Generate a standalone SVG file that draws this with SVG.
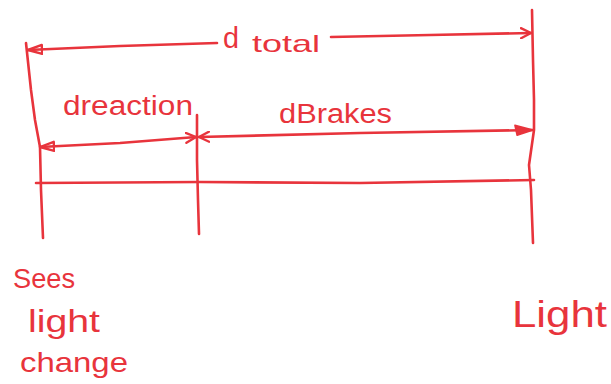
<svg xmlns="http://www.w3.org/2000/svg" width="611" height="384" viewBox="0 0 611 384">
<style>
.ln{fill:none;stroke:#e8343c;stroke-width:2.6;stroke-linecap:round;stroke-linejoin:round}
.t{fill:#e8343c;font-family:"Liberation Sans","DejaVu Sans",sans-serif}
</style>
<defs>
<marker id="chev" viewBox="0 0 12 12" refX="11" refY="6" markerWidth="12" markerHeight="12" markerUnits="userSpaceOnUse" orient="auto-start-reverse">
<path d="M1,1 L11,6 L1,11" fill="none" stroke="#e8343c" stroke-width="2.4" stroke-linecap="round" stroke-linejoin="round"/>
</marker>
<marker id="otri" viewBox="0 0 16 12" refX="15" refY="6" markerWidth="16" markerHeight="12" markerUnits="userSpaceOnUse" orient="auto-start-reverse">
<path d="M1,1.5 L15,6 L1,10.5 Z" fill="none" stroke="#e8343c" stroke-width="2.4" stroke-linejoin="round"/>
</marker>
<marker id="ftri" viewBox="0 0 20 12" refX="19" refY="6" markerWidth="20" markerHeight="12" markerUnits="userSpaceOnUse" orient="auto-start-reverse">
<path d="M1,1 L19,6 L3,11 Z" fill="#e8343c" stroke="#e8343c" stroke-width="1.5" stroke-linejoin="round"/>
</marker>
</defs>
<rect width="611" height="384" fill="#ffffff"/>

<g id="ticks">
<polyline class="ln" points="26,43 31,90 35,120 40,147 41,190 43,238"/>
<polyline class="ln" points="197,115 197,160 198,200 199,234"/>
<polyline class="ln" points="532,10 533,60 534,100 534,130 529,165 531,190 533,243"/>
</g>

<g id="connectors">
<path class="ln" d="M217,43 L120,46 L28,50" marker-end="url(#otri)"/>
<path class="ln" d="M331,37 L430,35 L531,33" marker-end="url(#chev)"/>
<path class="ln" d="M40,147 L120,143 L196,137" marker-start="url(#otri)" marker-end="url(#chev)"/>
<path class="ln" d="M199,137 L360,133 L533,130" marker-start="url(#chev)" marker-end="url(#ftri)"/>
<path class="ln" d="M36,183 L200,182 L360,183 L534,180"/>
</g>

<g id="label-dtotal">
<text class="t" x="223" y="48" font-size="30" textLength="16" lengthAdjust="spacingAndGlyphs">d</text>
<text class="t" x="252" y="52" font-size="24" textLength="68" lengthAdjust="spacingAndGlyphs">total</text>
</g>
<g id="label-dreaction">
<text class="t" x="63" y="115" font-size="27" textLength="130" lengthAdjust="spacingAndGlyphs">dreaction</text>
</g>
<g id="label-dbrakes">
<text class="t" x="279" y="123" font-size="27" textLength="113" lengthAdjust="spacingAndGlyphs">dBrakes</text>
</g>
<g id="label-sees">
<text class="t" x="13" y="288" font-size="28" textLength="62" lengthAdjust="spacingAndGlyphs">Sees</text>
<text class="t" x="28" y="332" font-size="32" textLength="72" lengthAdjust="spacingAndGlyphs">light</text>
<text class="t" x="20" y="372" font-size="28" textLength="108" lengthAdjust="spacingAndGlyphs">change</text>
</g>
<g id="label-light">
<text class="t" x="512" y="327" font-size="36" textLength="95" lengthAdjust="spacingAndGlyphs">Light</text>
</g>
</svg>
